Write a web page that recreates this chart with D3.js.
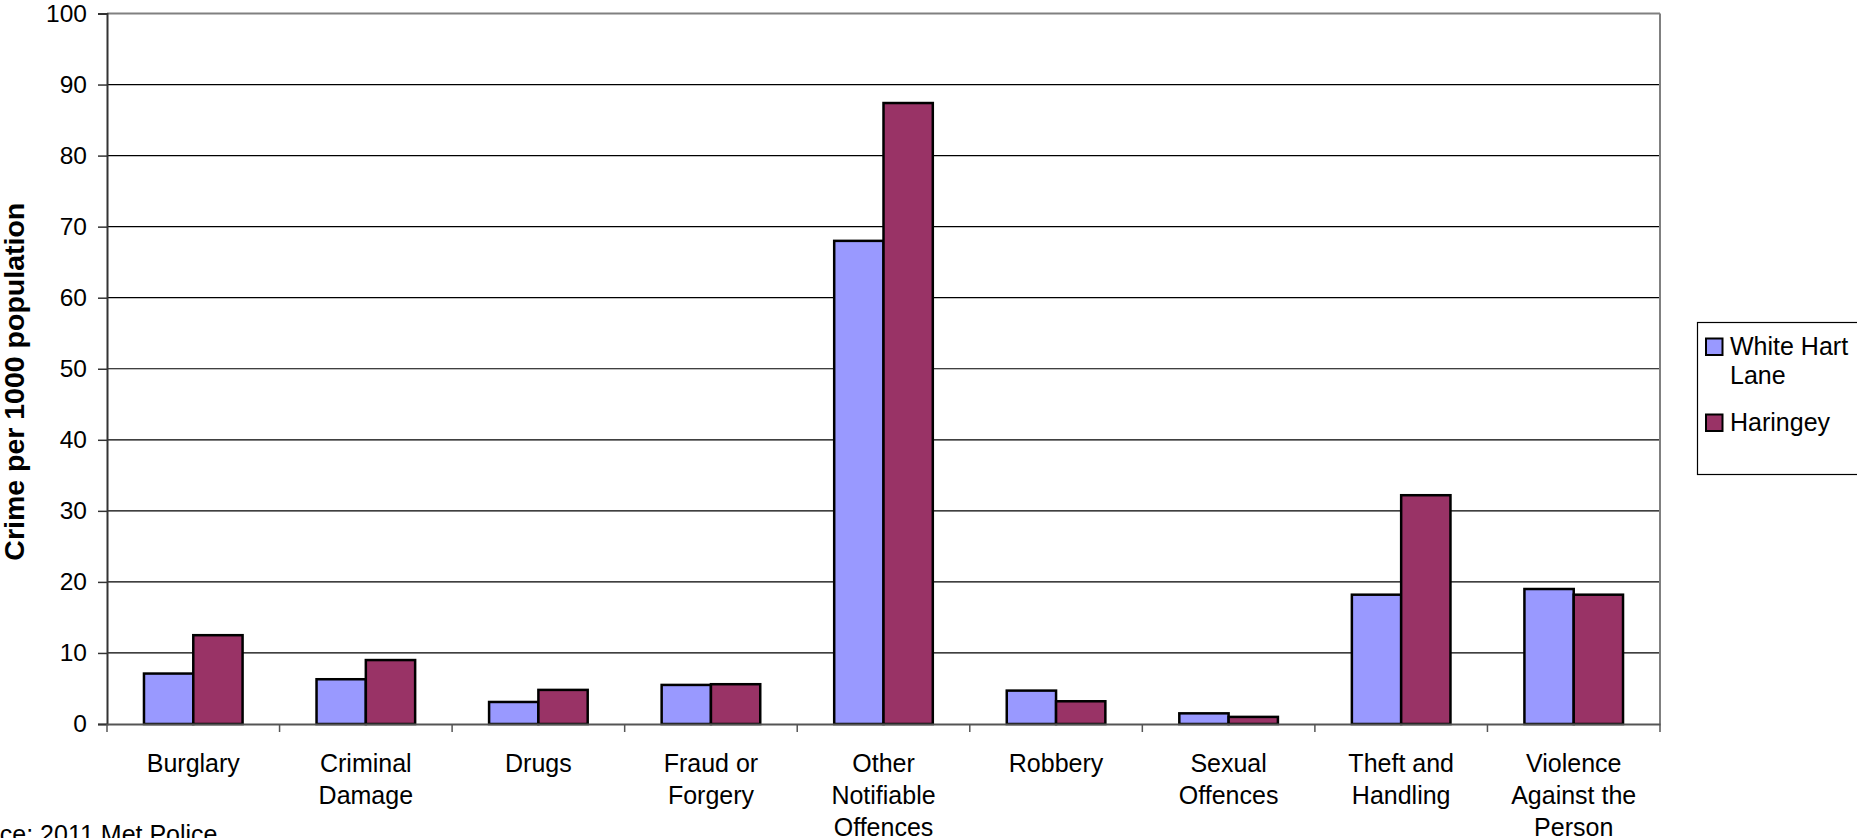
<!DOCTYPE html>
<html>
<head>
<meta charset="utf-8">
<script src="https://cdn.jsdelivr.net/npm/d3@7"></script>
<style>
  html, body { margin: 0; padding: 0; background: #fff; }
  svg { display: block; font-family: "Liberation Sans", Arial, sans-serif; }
</style>
</head>
<body>
<svg id="chart" width="1857" height="838"></svg>
<script>
// ---- data ----
const categories = ["Burglary", "Criminal Damage", "Drugs", "Fraud or Forgery", "Other Notifiable Offences", "Robbery", "Sexual Offences", "Theft and Handling", "Violence Against the Person"];
const categoryLabelLines = [["Burglary"], ["Criminal", "Damage"], ["Drugs"], ["Fraud or", "Forgery"], ["Other", "Notifiable", "Offences"], ["Robbery"], ["Sexual", "Offences"], ["Theft and", "Handling"], ["Violence", "Against the", "Person"]];
const seriesNames = ["White Hart Lane", "Haringey"];
const legendLines = [["White Hart", "Lane"], ["Haringey"]];
const whiteHartLane = [7.1, 6.3, 3.1, 5.5, 68.0, 4.7, 1.5, 18.2, 19.0];
const haringey = [12.5, 9.0, 4.8, 5.6, 87.4, 3.2, 1.0, 32.2, 18.2];
const yTicks = [0, 10, 20, 30, 40, 50, 60, 70, 80, 90, 100];
const yTitle = "Crime per 1000 population";
const sourceText = "Source: 2011 Met Police";

// ---- layout ----
const colors = ["#9999FF", "#993366"];
const plot = { left: 107, right: 1660, top: 13.5, bottom: 724 };
const svg = d3.select("#chart");

const x0 = d3.scaleBand().domain(categories).range([plot.left, plot.right]).paddingInner(0).paddingOuter(0);
const x1 = d3.scaleBand().domain(seriesNames).range([0, x0.bandwidth()]).paddingInner(0).paddingOuter(0.75);
const y = d3.scaleLinear().domain([0, 100]).range([plot.bottom, plot.top]);

// gridlines
svg.append("g")
  .selectAll("line").data(yTicks.filter(d => d > 0 && d < 100)).join("line")
  .attr("x1", plot.left).attr("x2", plot.right)
  .attr("y1", d => y(d)).attr("y2", d => y(d))
  .attr("stroke", "#000").attr("stroke-width", 1.2);

// plot border (top and right in gray)
svg.append("line").attr("x1", plot.left).attr("x2", plot.right).attr("y1", y(100)).attr("y2", y(100))
  .attr("stroke", "#808080").attr("stroke-width", 2);
svg.append("line").attr("x1", plot.right).attr("x2", plot.right).attr("y1", y(100)).attr("y2", y(0))
  .attr("stroke", "#808080").attr("stroke-width", 2);

// bars
const values = [whiteHartLane, haringey];
const groups = svg.append("g").selectAll("g").data(categories).join("g")
  .attr("transform", d => `translate(${x0(d)},0)`);
groups.selectAll("rect")
  .data((d, i) => seriesNames.map((s, j) => ({ s, v: values[j][i], c: colors[j] })))
  .join("rect")
  .attr("x", d => x1(d.s))
  .attr("width", x1.bandwidth())
  .attr("y", d => y(d.v))
  .attr("height", d => y(0) - y(d.v))
  .attr("fill", d => d.c)
  .attr("stroke", "#000")
  .attr("stroke-width", 2.5);

// y axis
const yAxis = d3.axisLeft(y).tickValues(yTicks).tickSize(9).tickPadding(11).tickFormat(d3.format("d"));
const yg = svg.append("g").attr("transform", `translate(${plot.left},0)`).call(yAxis);
yg.select(".domain").attr("stroke", "#333").attr("stroke-width", 2);
yg.selectAll(".tick line").attr("stroke", "#333").attr("stroke-width", 1.5);
yg.selectAll(".tick text").attr("font-size", 24.5).attr("fill", "#000")
  .attr("font-family", "'Liberation Sans', Arial, sans-serif");

// x axis
const xAxis = d3.axisBottom(x0).tickSize(0).tickFormat("");
const xg = svg.append("g").attr("transform", `translate(0,${plot.bottom})`).call(xAxis);
xg.select(".domain").attr("stroke", "#555").attr("stroke-width", 2);
// category boundary ticks
const boundaries = categories.map(c => x0(c)).concat([plot.right]);
svg.append("g").selectAll("line").data(boundaries).join("line")
  .attr("x1", d => d).attr("x2", d => d)
  .attr("y1", plot.bottom).attr("y2", plot.bottom + 8)
  .attr("stroke", "#555").attr("stroke-width", 1.5);

// category labels
const catLabels = svg.append("g").selectAll("text").data(categories).join("text")
  .attr("text-anchor", "middle")
  .attr("font-size", 25)
  .attr("fill", "#000")
  .attr("transform", d => `translate(${x0(d) + x0.bandwidth() / 2},771.5)`);
catLabels.each(function(d, i) {
  d3.select(this).selectAll("tspan").data(categoryLabelLines[i]).join("tspan")
    .attr("x", 0).attr("dy", (t, k) => k === 0 ? 0 : 32.3).text(t => t);
});

// y title
svg.append("text")
  .attr("transform", `translate(24,${(plot.top + plot.bottom) / 2 + 13}) rotate(-90)`)
  .attr("text-anchor", "middle")
  .attr("font-size", 28.5)
  .attr("font-weight", "bold")
  .attr("fill", "#000")
  .text(yTitle);

// source
svg.append("text").attr("x", -53).attr("y", 843).attr("font-size", 25).attr("fill", "#000").text(sourceText);

// legend
const lg = svg.append("g");
lg.append("rect").attr("x", 1697.5).attr("y", 322.5).attr("width", 170).attr("height", 152)
  .attr("fill", "#fff").attr("stroke", "#000").attr("stroke-width", 1.2);
const legendY = [338.5, 414.5];
seriesNames.forEach((s, i) => {
  lg.append("rect").attr("x", 1706).attr("y", legendY[i]).attr("width", 16.5).attr("height", 16.5)
    .attr("fill", colors[i]).attr("stroke", "#000").attr("stroke-width", 2);
  const t = lg.append("text").attr("font-size", 25).attr("fill", "#000")
    .attr("transform", `translate(1730,${legendY[i] + 16.5})`);
  t.selectAll("tspan").data(legendLines[i]).join("tspan")
    .attr("x", 0).attr("dy", (d, k) => k === 0 ? 0 : 28.5).text(d => d);
});
</script>
</body>
</html>
